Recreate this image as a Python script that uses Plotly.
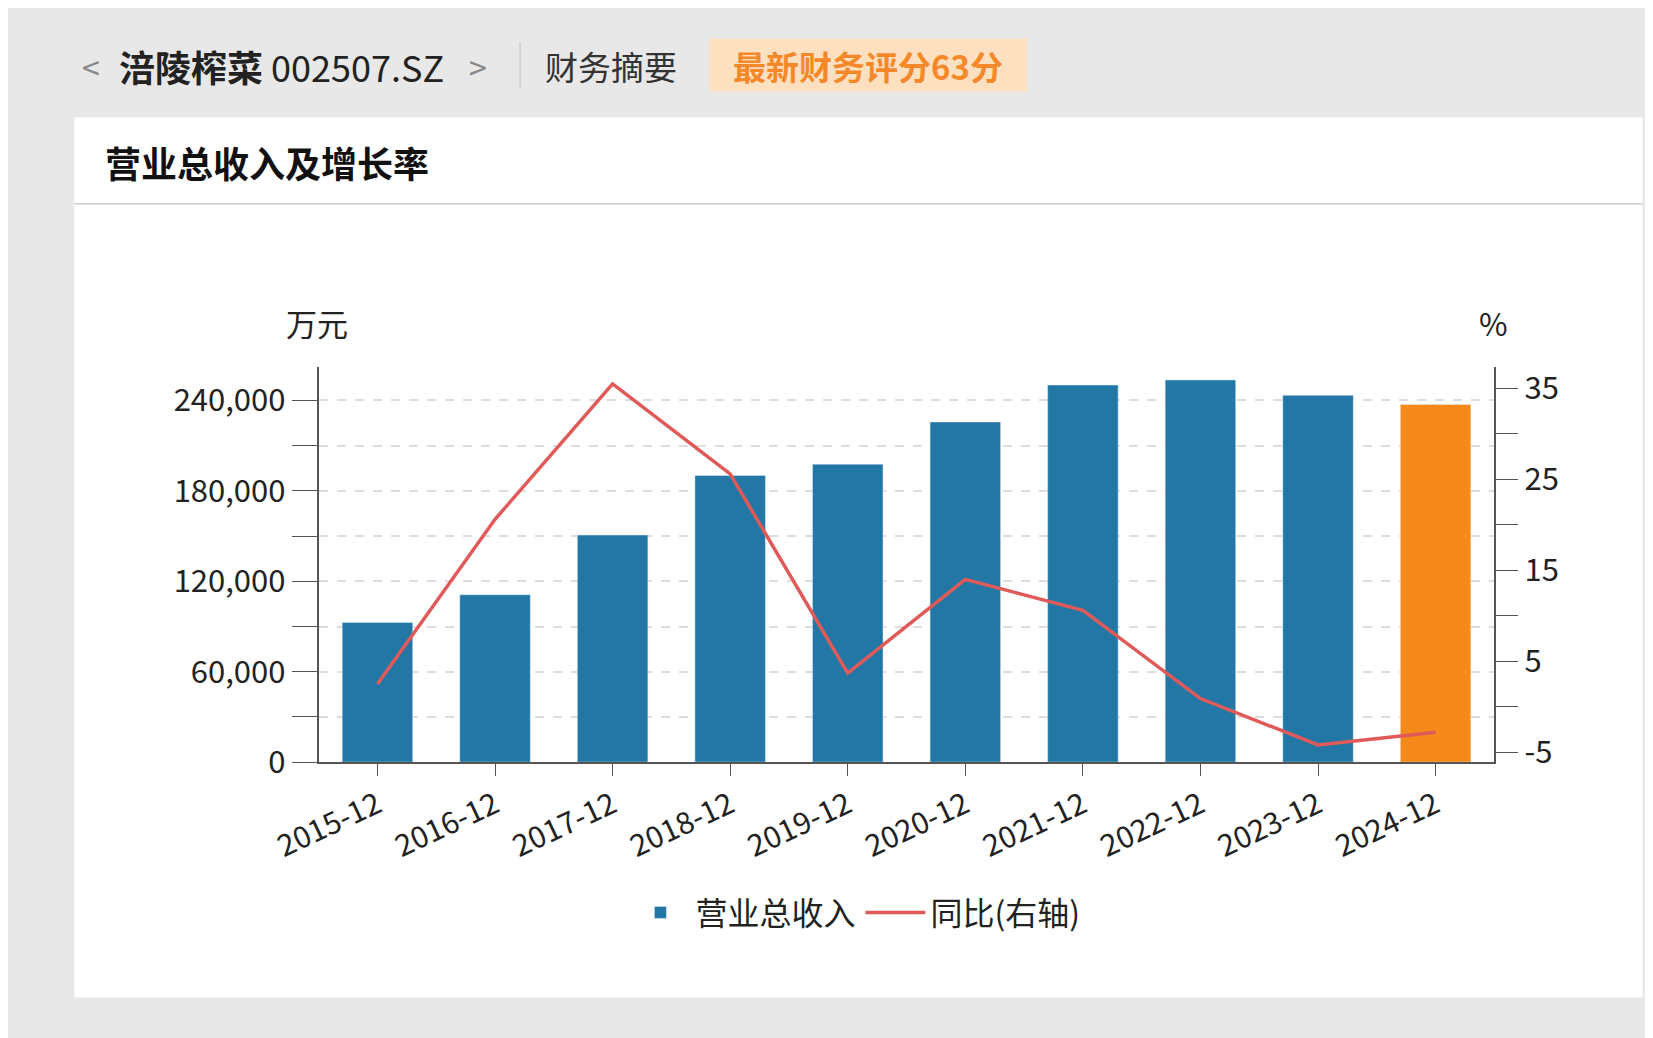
import plotly.graph_objects as go

years = ["2015-12","2016-12","2017-12","2018-12","2019-12","2020-12","2021-12","2022-12","2023-12","2024-12"]
revenue = [92700,111100,150700,190200,197700,225700,250200,253600,243400,237300]
growth = [2.5,20.6,35.5,25.6,3.7,14.0,10.6,0.9,-4.2,-2.8]
bar_colors = ["#2277a5"]*9 + ["#f5891a"]

W, H = 1568, 985
def px(x): return x / W
def py(y): return 1 - y / H

F = "Noto Sans CJK SC"
fig = go.Figure()
fig.add_trace(go.Bar(x=years, y=revenue, name="营业总收入", marker_color=bar_colors, width=0.6))
fig.add_trace(go.Scatter(x=years, y=growth, name="同比(右轴)", yaxis="y2", mode="lines",
                         line=dict(color="#e05a5a", width=3.5)))

shapes = [
    dict(type="rect", xref="paper", yref="paper", x0=px(16), x1=px(1550), y0=py(957), y1=py(103),
         fillcolor="white", line_width=0, layer="below"),
    dict(type="line", xref="paper", yref="paper", x0=px(16), x1=px(1550), y0=py(187), y1=py(187),
         line=dict(color="#cccccc", width=1.5)),
    dict(type="line", xref="paper", yref="paper", x0=px(452), x1=px(452), y0=py(30), y1=py(74),
         line=dict(color="#cccccc", width=1.5)),
    dict(type="rect", xref="paper", yref="paper", x0=px(637), x1=px(948), y0=py(78), y1=py(27),
         fillcolor="#fde0c0", line_width=0),
]
ann = [
    dict(x=px(22), y=py(53), text="<", font=dict(size=32, color="#888"), xanchor="left"),
    dict(x=px(58), y=py(53), text="<b>涪陵榨菜</b> 002507.SZ", font=dict(size=36, color="#222"), xanchor="left"),
    dict(x=px(400), y=py(53), text=">", font=dict(size=32, color="#888"), xanchor="left"),
    dict(x=px(474), y=py(53), text="财务摘要", font=dict(size=33, color="#333"), xanchor="left"),
    dict(x=px(792), y=py(53), text="<b>最新财务评分63分</b>", font=dict(size=33, color="#f5892a"), xanchor="center"),
    dict(x=px(44), y=py(147), text="<b>营业总收入及增长率</b>", font=dict(size=36, color="#111"), xanchor="left"),
    dict(x=px(253), y=py(302), text="万元", font=dict(size=31, color="#222"), xanchor="center"),
    dict(x=px(1404), y=py(302), text="%", font=dict(size=31, color="#222"), xanchor="center"),
]
for a in ann:
    a.update(xref="paper", yref="paper", showarrow=False, yanchor="middle")

fig.update_layout(
    width=1653, height=1038, margin=dict(l=0, r=0, t=0, b=0),
    paper_bgcolor="#e8e8e8", plot_bgcolor="white",
    font=dict(family=F, size=30, color="#222"),
    shapes=shapes, annotations=ann,
    xaxis=dict(type="category", domain=[px(255), px(1405)], showline=True, linecolor="#555", linewidth=2,
               ticks="outside", ticklen=12, tickcolor="#555", tickangle=-25, tickfont=dict(size=30)),
    yaxis=dict(domain=[py(729), py(345)], range=[0, 262500], tickvals=list(range(0, 240001, 30000)),
               ticktext=[f"{v:,}" if v % 60000 == 0 else "" for v in range(0, 240001, 30000)],
               showline=True, linecolor="#555", linewidth=2, ticks="outside", ticklen=25, tickcolor="#555",
               showgrid=True, gridcolor="#dddddd", griddash="dash", gridwidth=1.5, zeroline=False,
               tickfont=dict(size=31)),
    yaxis2=dict(overlaying="y", side="right", range=[-6.1, 37.4], tickvals=list(range(-5, 36, 5)),
                ticktext=[str(v) if v % 10 == 5 or v % 10 == -5 else "" for v in range(-5, 36, 5)],
                showline=True, linecolor="#555", linewidth=2, ticks="outside", ticklen=22, tickcolor="#555",
                showgrid=False, zeroline=False, tickfont=dict(size=31)),
    legend=dict(orientation="h", x=px(780), y=py(875), xanchor="center", yanchor="middle",
                font=dict(size=32), bgcolor="rgba(0,0,0,0)", itemwidth=60),
)
fig.write_html("out.html")
